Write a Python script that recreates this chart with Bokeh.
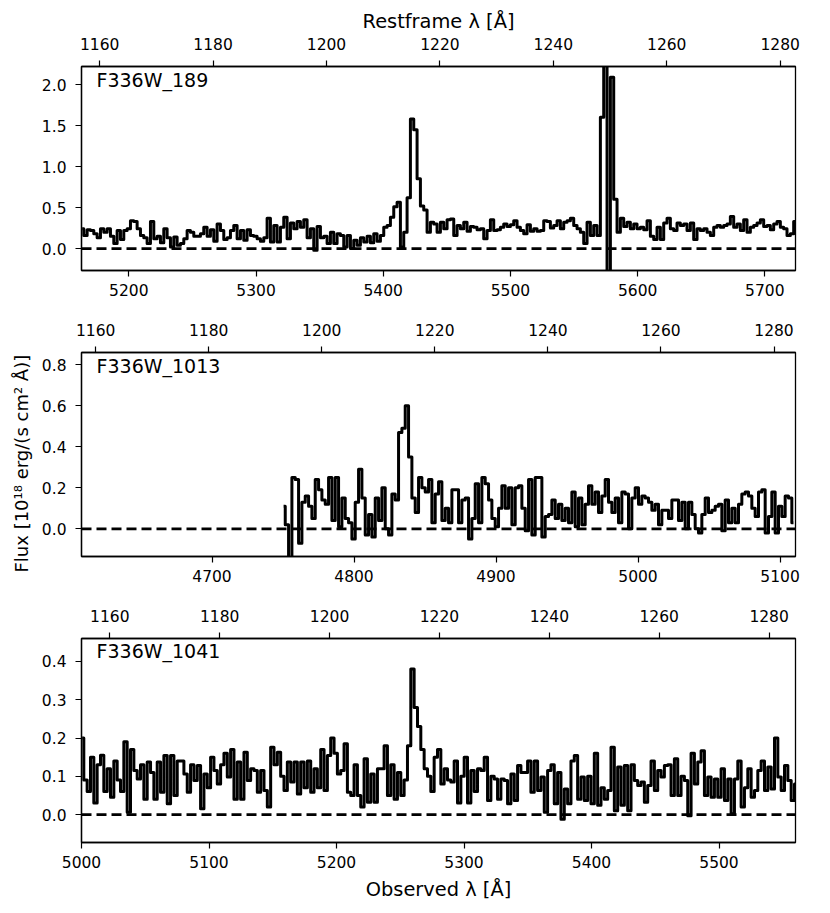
from bokeh.embed import file_html
from bokeh.layouts import column
from bokeh.models import FixedTicker, Label, LinearAxis, NumeralTickFormatter, Range1d, Span, Title
from bokeh.plotting import figure
from bokeh.resources import INLINE
import numpy as np

# spectra, one flux value per wavelength bin
names = ["F336W_189", "F336W_1013", "F336W_1041"]

flux_189 = [
    .24, .16, .23, .22, .18, .13, .24, .20, .24, .15, .06, .22, .11, .22, .24, .34, .33, .24, .16, .13,
    .06, .33, .12, .15, .07, .24, .13, .02, .14, .04, .06, .12, .22, .20, .15, .15, .18, .26, .15, .23,
    .09, .30, .22, .11, .13, .22, .28, .12, .22, .10, .23, .16, .15, .12, .09, .13, .37, .08, .28, .08,
    .26, .38, .12, .31, .24, .33, .26, .35, .13, .24, -.02, .27, .13, .15, .06, .20, .06, .18, .16, .02,
    .16, 0, .10, .04, .13, .08, .15, .07, .18, .09,
    .16, .26, .28, .38, .51, .565, .02, .20, .62, 1.58, 1.45, .85, .52, .47, .2, .32, .3, .2, .32, .24,
    .35, .36, .16, .28, .24, .32, .21, .27, .26, .23, .24, .12, .22, .35, .22, .23, .26, .3, .27, .29,
    .34, .26, .22, .18, .29, .21, .24, .21, .22, .34, .33, .25, .28, .34, .24, .32, .34, .37, .28, .24,
    .2, .06, .32, .16, .28, .16, 1.6, 3.0, -.6, 2.09, .6, .2, .37, .27, .32, .24, .30, .24,
    .26, .23, .34, .15, .11, .26, .11, .31, .37, .24, .22, .31, .28, .30, .22, .31, .11, .24, .22, .24,
    .20, .16, .26, .28, .26, .28, .30, .39, .26, .30, .22, .35, .20, .26, .28, .31, .35, .27, .28, .23,
    .30, .33, .26, .24, .16, .18, .33,
]

flux_1013 = [
    .11, .02, -.14, .25, .24, -.07, .13, .16, .11, .05, .24, .19, .14, .12, .25, .04, .25, .01, .15, .05,
    .03, -.05, .13, .29, .15, -.03, .07, -.04, .15, .04, .20, 0, -.03, .17, .14, .47, .49, .60, .35, .15,
    .08, .25, .20, .18, .24, .03, .17, .23, .04, .10, .03, .19, .19, .03, .14, .15, -.05, .05, .22, .03,
    .25, .22, .14, .05, .01, .10, .21, .10, .20, .02, .20, .21, .10, -.01, .24, -.03, .25,
    .25, -.04, .06, .07, .14, .05, .12, .04, .10, .03, .18, .01, .15, .02, .12, .21, .12, .18, .08, .16,
    .24, .13, .08, .15, .03, .18, .17, 0, .15, .20, .12, .16, .15, .13, .09, .12, .02, .09, .09, .05,
    .14, .14, .04, .13, 0, .13, .07, 0, -.02, .07, .15, .08, .09, .11, .12, -.01, .14, .03, .10, .03,
    .12, .17, .18, .16, .10, .06, .18, .19, -.02, .06, .18, -.02, .11, .06, .16, .15, .03,
]

flux_1041 = [
    .20, .09, .06, .15, .03, .13, .155, .06, .12, .045, .14, .09, .06, .19, .006, .17, .115, .093, .13, .04,
    .137, .11, .04, .137, .058, .154, .028, .154, .05, .14, .14, .106, .058, .13, .089, .128, .015, .106, .07, .15,
    .115, .08, .13, .16, .098, .17, .04, .137, .04, .163, .089, .12, .115, .058, .115, .063, .02, .176, .13, .163,
    .10, .063, .137, .085, .137, .054, .137, .07, .14, .058, .12, .07, .17, .063, .154, .20, .16, .106, .115, .185,
    .058, .05, .13, .05, .02, .146, .032, .106, .032, .12,
    .12, .18, .05, .13, .04, .11, .05, .09, .18, .38, .28, .23, .17, .12, .10, .06, .15, .17, .08, .12,
    .09, .085, .14, .03, .10, .15, .03, .115, .06, .12,
    .115, .15, .037, .10, .093, .04, .093, .089, .028, .106, .037, .128, .11, .11, .14, .058, .14, .063, .098, .006,
    .115, .13, .028, .11, -.012, .067, .028, .14, .154, .04, .098, .037, .10, .028, .16, .024, .07, .04, .063, .176,
    .01, .124, .024, .128, .01, .13, .089, .076, .085, .032, .076, .14, .063, .115, .098, .128, .13, .05, .146, .05,
    .10, .089, -.003, .16, .08, .137, .167, .05, .098, .045, .093, .045, .12, .037, .093, .002, .093, .14, .02, .07,
    .12, .045, .063, .115, .14, .063, .124, .067, .20, .098, .063, .128, .089, .037, .08,
]

fluxes = [flux_189, flux_1013, flux_1041]
wave_start = [5163.3, 4750.4, 5000.5]
wave_step = [2.62, 2.347, 2.617]

x_ranges = [(5162.8, 5724.1), (4608.1, 5110.9), (5000.0, 5560.0)]
rest_ranges = [(1156.8, 1282.7), (1157.5, 1283.8), (1154.85, 1284.8)]
y_ranges = [(-0.268, 2.22), (-0.135, 0.86), (-0.073, 0.46)]

x_ticks = [
    [5200, 5300, 5400, 5500, 5600, 5700],
    [4700, 4800, 4900, 5000, 5100],
    [5000, 5100, 5200, 5300, 5400, 5500],
]
rest_ticks = [1160, 1180, 1200, 1220, 1240, 1260, 1280]
y_ticks = [
    [0, 0.5, 1, 1.5, 2],
    [0, 0.2, 0.4, 0.6, 0.8],
    [0, 0.1, 0.2, 0.3, 0.4],
]
name_pos = [(5174.6, 2.06), (4618.7, 0.794), (5011.8, 0.428)]

borders = [(66, 41), (41, 41), (41, 60)]

panels = []
for i in range(3):
    p = figure(frame_width=714, frame_height=204, output_backend="svg", toolbar_location=None,
               x_range=Range1d(*x_ranges[i]), y_range=Range1d(*y_ranges[i]),
               min_border_left=81, min_border_right=27,
               min_border_top=borders[i][0], min_border_bottom=borders[i][1])
    p.extra_x_ranges = {"rest": Range1d(*rest_ranges[i])}
    p.add_layout(LinearAxis(x_range_name="rest", ticker=FixedTicker(ticks=rest_ticks)), "above")

    wave = wave_start[i] + wave_step[i] * np.arange(len(fluxes[i]))
    p.step(wave, fluxes[i], mode="center", color="black", line_width=3, line_join="round")
    p.add_layout(Span(location=0, dimension="width", line_color="black", line_width=2.8, line_dash="10 5"))
    p.add_layout(Label(x=name_pos[i][0], y=name_pos[i][1], text=names[i], text_font="DejaVu Sans",
                       text_font_size="19px", text_color="black", text_baseline="alphabetic"))

    p.below[0].ticker = FixedTicker(ticks=x_ticks[i])
    p.left[0].ticker = FixedTicker(ticks=y_ticks[i])
    p.left[0].formatter = NumeralTickFormatter(format="0.0")

    p.grid.grid_line_color = None
    p.outline_line_color = "black"
    p.outline_line_width = 1.3
    for axis in [p.below[0], p.above[0], p.left[0]]:
        axis.axis_line_color = "black"
        axis.axis_line_width = 1.3
        axis.major_tick_line_color = "black"
        axis.major_tick_line_width = 1.2
        axis.major_tick_out = 6
        axis.major_tick_in = 0
        axis.minor_tick_line_color = None
        axis.major_label_text_font = "DejaVu Sans"
        axis.major_label_text_font_size = "15.5px"
        axis.major_label_text_color = "black"
        axis.axis_label_text_font = "DejaVu Sans"
        axis.axis_label_text_font_size = "19.4px"
        axis.axis_label_text_font_style = "normal"
        axis.axis_label_text_color = "black"
    p.below[0].major_label_standoff = 7
    p.above[0].major_label_standoff = 11
    p.left[0].major_label_standoff = 9
    p.above[0].axis_label_standoff = 2
    p.below[0].axis_label_standoff = 7
    panels.append(p)

panels[0].above[0].axis_label = "Restframe λ [Å]"
panels[2].below[0].axis_label = "Observed λ [Å]"
panels[1].add_layout(Title(text="Flux [10¹⁸ erg/(s cm² Å)]", align="left", offset=-16, standoff=13,
                           text_font="DejaVu Sans", text_font_size="18px", text_font_style="normal",
                           text_color="black"), "left")

p = column(*panels, spacing=0)
open("out.html", "w").write(file_html(p, INLINE))
